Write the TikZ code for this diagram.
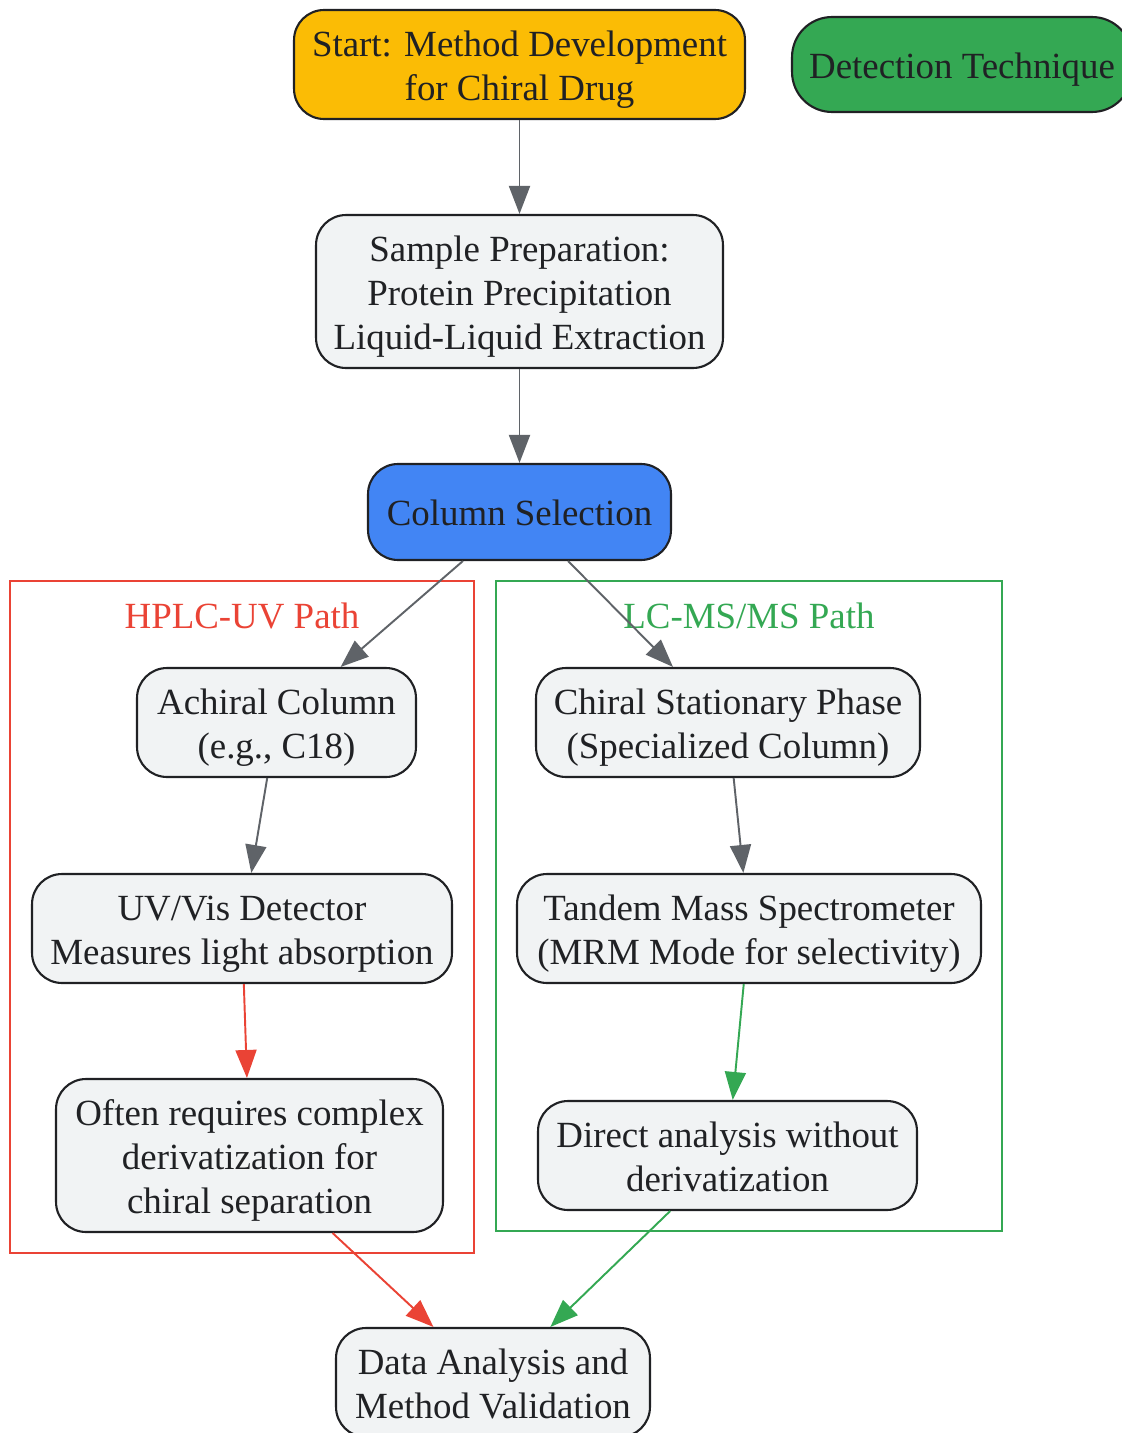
\documentclass[tikz,border=0pt]{standalone}
\usepackage{fontspec}
\setmainfont{Liberation Serif}
\usetikzlibrary{arrows.meta}

\definecolor{startfill}{HTML}{FBBC05}
\definecolor{techfill}{HTML}{34A853}
\definecolor{colfill}{HTML}{4285F4}
\definecolor{stepfill}{HTML}{F1F3F4}
\definecolor{edgegray}{HTML}{5F6368}
\definecolor{hplcred}{HTML}{EA4335}
\definecolor{msgreen}{HTML}{34A853}
\definecolor{inkdark}{HTML}{202124}

\newcommand{\ls}{\rule[-4.6pt]{0pt}{24.8pt}}

\tikzset{
  stepbox/.style={draw=inkdark, line width=1.2pt, rounded corners=0.6cm, fill=stepfill,
    text=inkdark, align=center, inner sep=0pt, font=\fontsize{21}{25}\selectfont},
  flow/.style={line width=1.1pt, -{Triangle[length=0.56cm,width=0.42cm]}},
  pathbox/.style={line width=1.1pt},
  pathlabel/.style={font=\fontsize{21}{25}\selectfont}
}

\begin{document}
\begin{tikzpicture}[x=0.02cm, y=-0.02cm]
		%%%%% START %%%%%
		\useasboundingbox (0, 0) rectangle (1122, 1433);
		\clip (0, 0) rectangle (1122, 1433);
		
		% path frames
		\draw[pathbox, draw=hplcred] (10, 581) rectangle (474, 1253);
		\node[pathlabel, text=hplcred] (hplclabel) at (242, 616) {HPLC-UV Path};
		\draw[pathbox, draw=msgreen] (496, 581) rectangle (1002, 1231);
		\node[pathlabel, text=msgreen] (mslabel) at (749, 616) {LC-MS/MS Path};
		
		% top
		\node[stepbox, fill=startfill, minimum width=9.02cm, minimum height=2.18cm] (start) at (519.5, 64.5) {\ls Start: Method Development\\for Chiral Drug\ls};
		\node[stepbox, fill=techfill, rounded corners=0.8cm, minimum width=6.8cm, minimum height=1.9cm] (detect) at (962, 64.5) {\ls Detection Technique\ls};
		\node[stepbox, minimum width=8.14cm, minimum height=3.06cm] (prep) at (519.5, 291.5) {\ls Sample Preparation:\\Protein Precipitation\\Liquid-Liquid Extraction\ls};
		\node[stepbox, fill=colfill, minimum width=6.06cm, minimum height=1.92cm] (colsel) at (519.5, 512) {\ls Column Selection\ls};
		
		% HPLC-UV
		\node[stepbox, minimum width=5.58cm, minimum height=2.18cm] (achiral) at (276.5, 722.5) {\ls Achiral Column\\(e.g., C18)\ls};
		\node[stepbox, minimum width=8.4cm, minimum height=2.18cm] (uvdet) at (242, 928.5) {\ls UV/Vis Detector\\Measures light absorption\ls};
		\node[stepbox, minimum width=7.74cm, minimum height=3.06cm] (deriv) at (249.5, 1155.5) {\ls Often requires complex\\derivatization for\\chiral separation\ls};
		
		% LC-MS/MS
		\node[stepbox, minimum width=7.68cm, minimum height=2.18cm] (csp) at (728, 722.5) {\ls Chiral Stationary Phase\\(Specialized Column)\ls};
		\node[stepbox, minimum width=9.28cm, minimum height=2.18cm] (tandem) at (749, 928.5) {\ls Tandem Mass Spectrometer\\(MRM Mode for selectivity)\ls};
		\node[stepbox, minimum width=7.58cm, minimum height=2.18cm] (direct) at (727.5, 1155.5) {\ls Direct analysis without\\derivatization\ls};
		
		% end
		\node[stepbox, minimum width=6.28cm, minimum height=2.18cm] (data) at (493, 1382.5) {\ls Data Analysis and\\Method Validation\ls};
		
		% connectors
		\draw[flow, draw=edgegray, fill=edgegray] (start) -- (prep);
		\draw[flow, draw=edgegray, fill=edgegray] (prep) -- (colsel);
		\draw[flow, draw=edgegray, fill=edgegray] (colsel) -- (achiral);
		\draw[flow, draw=edgegray, fill=edgegray] (colsel) -- (csp);
		\draw[flow, draw=edgegray, fill=edgegray] (achiral) -- (uvdet);
		\draw[flow, draw=edgegray, fill=edgegray] (csp) -- (tandem);
		\draw[flow, draw=hplcred, fill=hplcred] (uvdet) -- (deriv);
		\draw[flow, draw=msgreen, fill=msgreen] (tandem) -- (direct);
		\draw[flow, draw=hplcred, fill=hplcred] (deriv) -- (data);
		\draw[flow, draw=msgreen, fill=msgreen] (direct) -- (data);
		
		%%%%% END %%%%%
	\end{tikzpicture}
\end{document}
